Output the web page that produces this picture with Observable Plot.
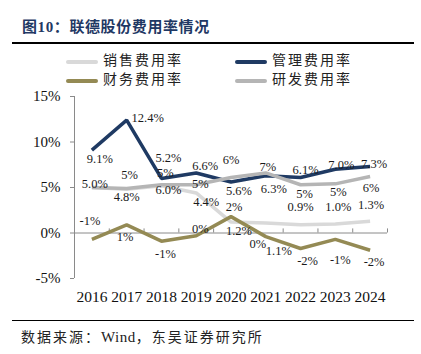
<!DOCTYPE html>
<html>
<head>
<meta charset="utf-8">
<script src="https://cdn.jsdelivr.net/npm/d3@7"></script>
<script src="https://cdn.jsdelivr.net/npm/@observablehq/plot@0.6"></script>
<style>
  body { margin: 0; background: #fff; }
  #wrap { position: relative; width: 421px; height: 354px; overflow: hidden; background: #fff; }
  .abs { position: absolute; }
  .title { left: 22px; top: 17px; font-family: "Liberation Serif", "Noto Sans CJK SC", serif; font-weight: bold; font-size: 15px; letter-spacing: 0.6px; color: #1f3864; line-height: 20px; white-space: nowrap; }
  .rule { height: 0; border-top: 2px solid #000; }
  .leg { font-family: "Liberation Serif", "Noto Sans CJK SC", serif; font-size: 14px; letter-spacing: 2px; color: #222; line-height: 18px; white-space: nowrap; }
  .sw { width: 32px; height: 4px; border-radius: 2px; }
  .cap { left: 21px; top: 327px; font-family: "Liberation Serif", "Noto Sans CJK SC", serif; font-size: 14px; letter-spacing: 2px; color: #222; line-height: 20px; white-space: nowrap; }
  .cap span { letter-spacing: 0.5px; font-size: 15px; }
</style>
</head>
<body>
<div id="wrap">
  <div class="abs title">图10：联德股份费用率情况</div>
  <div class="abs rule" style="left:12px; top:42px; width:402px;"></div>
  <div id="legend"></div>
  <div id="chart" class="abs" style="left:0; top:88px;"></div>
  <div class="abs rule" style="left:12px; top:320px; width:402px; border-top-width:1.5px;"></div>
  <div class="abs cap">数据来源：<span>Wind</span>，东吴证券研究所</div>
</div>
<script>
// ---- data ----
const years = [2016, 2017, 2018, 2019, 2020, 2021, 2022, 2023, 2024];
const salesRate = [5.0, 4.8, 5.2, 4.4, 1.2, 1.1, 0.9, 1.0, 1.3];
const mgmtRate  = [9.1, 12.4, 6.0, 6.6, 5.6, 6.3, 6.1, 7.0, 7.3];
const finRate   = [-0.7, 0.9, -0.9, -0.3, 1.8, -0.4, -1.7, -0.7, -1.9];
const rdRate    = [5.0, 4.9, 5.3, 5.3, 6.1, 6.6, 5.3, 5.4, 6.2];
const seriesNames = ["销售费用率", "管理费用率", "财务费用率", "研发费用率"];
const yTicks = [-5, 0, 5, 10, 15];

// ---- styling ----
const colors = ["#d9d9d9", "#1f3a63", "#948a54", "#b5b5b5"];
const serif = "Liberation Serif, Noto Sans CJK SC, serif";
const fmt1 = v => v.toFixed(1) + "%";
const fmt0 = v => String(Math.round(v) === 0 ? 0 : Math.round(v)) + "%";
// label pixel offsets relative to each point [dx, dy]; null = hidden
const salesShift = [[3,-3.5],[0,8],[7,-28],[10,9.5],[8,9],[13,28],[0,-18],[3,-17],[1,-16.5]];
const mgmtShift  = [[8,9],[21,-2],[7,12],[9,-7],[8,9],[8,13],[5,-7.5],[6,-4.6],[4,-3]];
const finShift   = [[-2,-18.7],[-1.6,12.6],[4,12.8],[4,-6.7],[3,-10],[-8,7.4],[7,13],[5,20.6],[4,12]];
const rdShift    = [null,[3,-13],[4,-11.5],[4,-1],[0,-17.5],[2,-6],[4,9],[3,8.5],[1,11]];

const series = [
  {vals: salesRate, color: colors[0], fmt: fmt1, shift: salesShift},
  {vals: mgmtRate,  color: colors[1], fmt: fmt1, shift: mgmtShift},
  {vals: finRate,   color: colors[2], fmt: fmt0, shift: finShift},
  {vals: rdRate,    color: colors[3], fmt: fmt0, shift: rdShift}
];

// legend
const legPos = [[66, 52], [235, 52], [66, 71], [235, 71]];
const legend = document.getElementById("legend");
seriesNames.forEach((name, i) => {
  const [lx, ly] = legPos[i];
  const sw = document.createElement("div");
  sw.className = "abs sw";
  sw.style.left = lx + "px"; sw.style.top = (ly + 8) + "px"; sw.style.background = colors[i];
  legend.appendChild(sw);
  const t = document.createElement("div");
  t.className = "abs leg";
  t.style.left = (lx + 37) + "px"; t.style.top = ly + "px";
  t.textContent = name;
  legend.appendChild(t);
});

const boundaries = years.map(y => y + 0.5);
const idx = years.map((_, i) => i);

const marks = [
  Plot.ruleY([0], {stroke: "#8a8a8a", strokeWidth: 1}),
  Plot.ruleX(boundaries, {y1: 0, y2: 0.45, stroke: "#8a8a8a", strokeWidth: 1}),
  Plot.ruleX([years[0] - 0.5], {y1: yTicks[0], y2: yTicks[yTicks.length - 1], stroke: "#8a8a8a", strokeWidth: 1}),
  Plot.axisY({ticks: yTicks, tickSize: 4, tickPadding: 10, tickFormat: d => d + "%", fontSize: 15, fontFamily: serif, stroke: "#8a8a8a", fill: "#111", label: null}),
  Plot.axisX({ticks: years, tickSize: 0, tickPadding: 12, tickFormat: d => String(d), fontSize: 15.5, fontFamily: serif, fill: "#111", label: null})
];
series.forEach(s => {
  marks.push(Plot.lineY(idx, {x: i => years[i], y: i => s.vals[i], stroke: s.color, strokeWidth: 3.5, strokeLinejoin: "miter", strokeLinecap: "butt"}));
});
series.forEach(s => {
  idx.forEach(i => {
    const sh = s.shift[i];
    if (!sh) return;
    marks.push(Plot.text([i], {x: i => years[i], y: i => s.vals[i], text: i => s.fmt(s.vals[i]), dx: sh[0], dy: sh[1], fontSize: 12.5, fontFamily: serif, fill: "#1a1a1a"}));
  });
});

const chart = Plot.plot({
  width: 421,
  height: 225,
  marginLeft: 74,
  marginRight: 34,
  marginTop: 8,
  marginBottom: 35,
  x: {type: "linear", domain: [years[0] - 0.5, years[years.length - 1] + 0.5]},
  y: {domain: [yTicks[0], yTicks[yTicks.length - 1]]},
  style: {background: "transparent", color: "#111", overflow: "visible"},
  marks
});
document.getElementById("chart").appendChild(chart);
</script>
</body>
</html>
